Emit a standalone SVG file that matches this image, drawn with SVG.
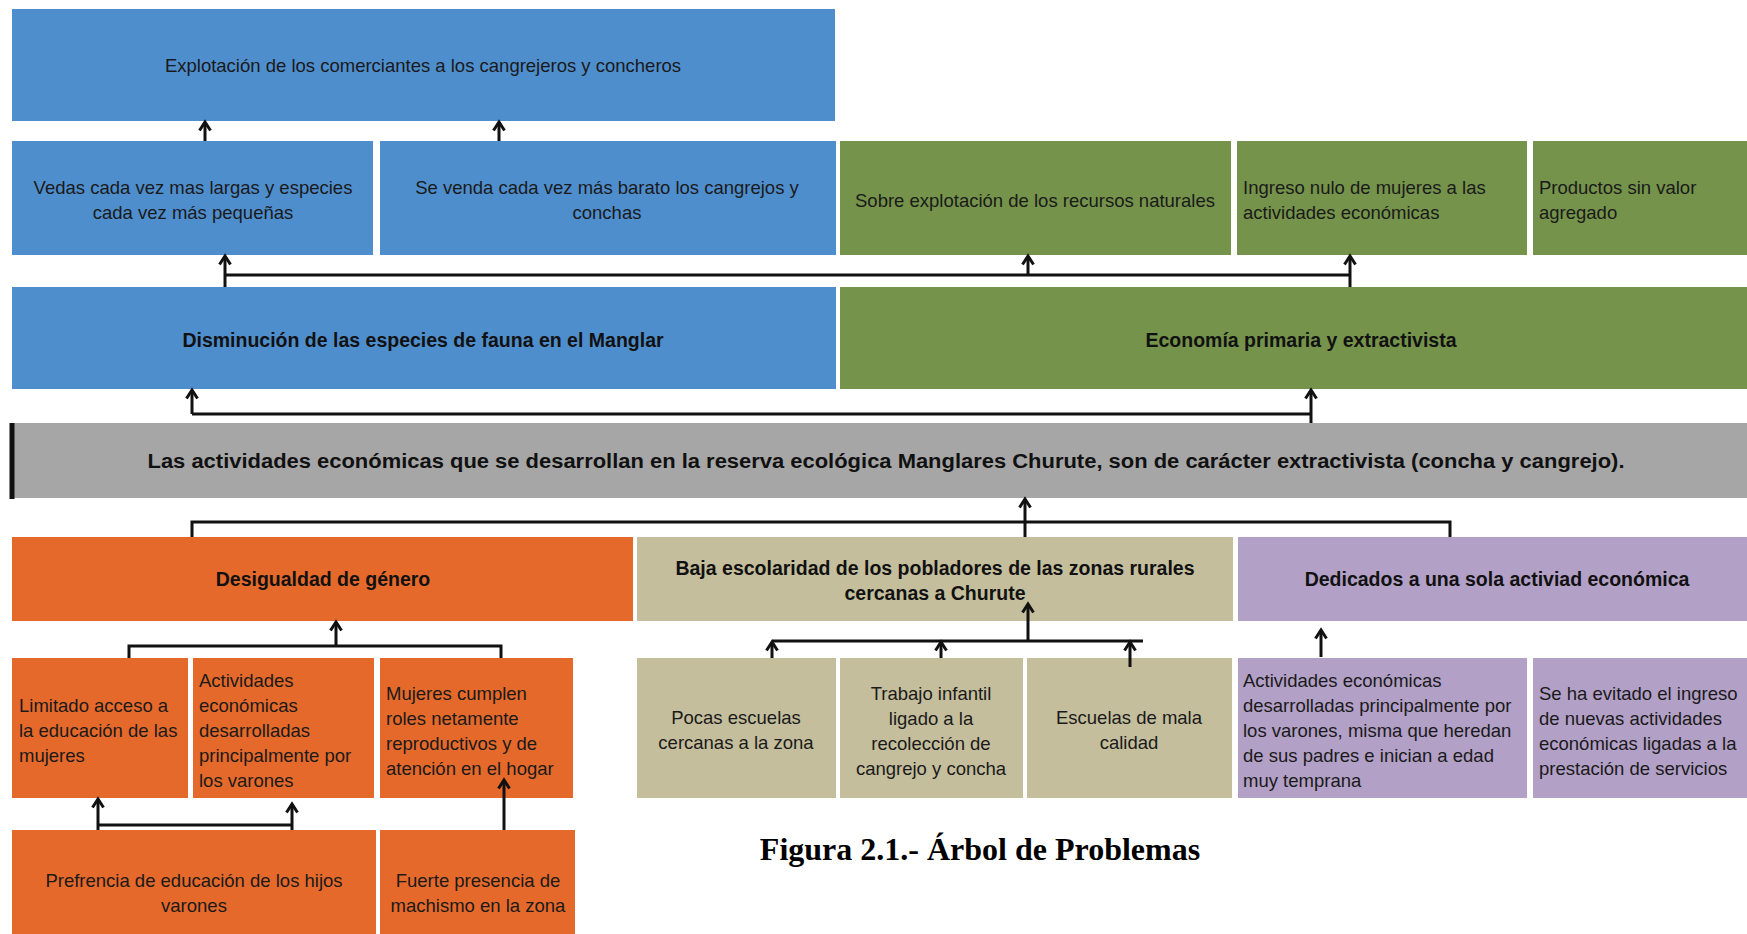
<svg xmlns="http://www.w3.org/2000/svg" width="1747" height="934" viewBox="0 0 1747 934">
<style>
.t{font-family:"Liberation Sans",Arial,sans-serif;font-size:18.5px;fill:#1a1a1a}
.b{font-family:"Liberation Sans",Arial,sans-serif;font-size:19.5px;font-weight:bold;fill:#111}
.m{text-anchor:middle}
.blue{fill:#4F8ECD}.green{fill:#75934A}.gray{fill:#A6A6A6}.orange{fill:#E5692A}.tan{fill:#C4BE9C}.purple{fill:#B2A0C6}
.c{fill:none;stroke:#111;stroke-width:3}
.a{fill:none;stroke:#111;stroke-width:3;marker-end:url(#ah)}
</style>
<defs>
<marker id="ah" markerUnits="userSpaceOnUse" orient="auto" refX="0" refY="0" markerWidth="12" markerHeight="12" overflow="visible">
<path d="M-8.5,-5.5 L0,0 L-8.5,5.5" fill="none" stroke="#111" stroke-width="3"/>
</marker>
</defs>
<rect width="1747" height="934" fill="#fff"/>

<g id="n-explotacion"><rect class="blue" x="12" y="9" width="823" height="112"/>
<text class="t m" x="423" y="71.5">Explotación de los comerciantes a los cangrejeros y concheros</text></g>

<g id="n-vedas"><rect class="blue" x="12" y="141" width="361" height="114"/>
<text class="t m" x="193" y="194">Vedas cada vez mas largas y especies</text>
<text class="t m" x="193" y="219">cada vez más pequeñas</text></g>

<g id="n-sevenda"><rect class="blue" x="380" y="141" width="456" height="114"/>
<text class="t m" x="607" y="194">Se venda cada vez más barato los cangrejos y</text>
<text class="t m" x="607" y="219">conchas</text></g>

<g id="n-sobre"><rect class="green" x="840" y="141" width="391" height="114"/>
<text class="t m" x="1035" y="206.5">Sobre explotación de los recursos naturales</text></g>

<g id="n-ingreso"><rect class="green" x="1237" y="141" width="290" height="114"/>
<text class="t" x="1243" y="194">Ingreso nulo de mujeres a las</text>
<text class="t" x="1243" y="219">actividades económicas</text></g>

<g id="n-productos"><rect class="green" x="1533" y="141" width="214" height="114"/>
<text class="t" x="1539" y="194">Productos sin valor</text>
<text class="t" x="1539" y="219">agregado</text></g>

<g id="n-disminucion"><rect class="blue" x="12" y="287" width="824" height="102"/>
<text class="b m" x="423" y="347">Disminución de las especies de fauna en el Manglar</text></g>

<g id="n-economia"><rect class="green" x="840" y="287" width="907" height="102"/>
<text class="b m" x="1301" y="347">Economía primaria y extractivista</text></g>

<g id="n-problema"><rect class="gray" x="14" y="423" width="1733" height="75"/>
<rect x="9.5" y="423" width="5" height="76" fill="#111"/>
<text class="b m" x="886" y="468" textLength="1477" lengthAdjust="spacingAndGlyphs">Las actividades económicas que se desarrollan en la reserva ecológica Manglares Churute, son de carácter extractivista (concha y cangrejo).</text></g>

<g id="n-desigualdad"><rect class="orange" x="12" y="537" width="621" height="84"/>
<text class="b m" x="323" y="586">Desigualdad de género</text></g>

<g id="n-baja"><rect class="tan" x="637" y="537" width="596" height="84"/>
<text class="b m" x="935" y="575">Baja escolaridad de los pobladores de las zonas rurales</text>
<text class="b m" x="935" y="599.5">cercanas a Churute</text></g>

<g id="n-dedicados"><rect class="purple" x="1238" y="537" width="509" height="84"/>
<text class="b m" x="1497" y="586">Dedicados a una sola activiad económica</text></g>

<g id="n-limitado"><rect class="orange" x="12" y="658" width="176" height="140"/>
<text class="t" x="19" y="711.5">Limitado acceso a</text>
<text class="t" x="19" y="736.5">la educación de las</text>
<text class="t" x="19" y="761.5">mujeres</text></g>

<g id="n-actividades-varones"><rect class="orange" x="193" y="658" width="181" height="140"/>
<text class="t" x="199" y="686.5">Actividades</text>
<text class="t" x="199" y="711.5">económicas</text>
<text class="t" x="199" y="736.5">desarrolladas</text>
<text class="t" x="199" y="761.5">principalmente por</text>
<text class="t" x="199" y="786.5">los varones</text></g>

<g id="n-mujeres"><rect class="orange" x="380" y="658" width="193" height="140"/>
<text class="t" x="386" y="699.5">Mujeres cumplen</text>
<text class="t" x="386" y="724.5">roles netamente</text>
<text class="t" x="386" y="749.5">reproductivos y de</text>
<text class="t" x="386" y="774.5">atención en el hogar</text></g>

<g id="n-pocas"><rect class="tan" x="637" y="658" width="199" height="140"/>
<text class="t m" x="736" y="723.5">Pocas escuelas</text>
<text class="t m" x="736" y="748.5">cercanas a la zona</text></g>

<g id="n-trabajo"><rect class="tan" x="840" y="658" width="183" height="140"/>
<text class="t m" x="931" y="699.5">Trabajo infantil</text>
<text class="t m" x="931" y="724.5">ligado a la</text>
<text class="t m" x="931" y="749.5">recolección de</text>
<text class="t m" x="931" y="774.5">cangrejo y concha</text></g>

<g id="n-escuelas"><rect class="tan" x="1027" y="658" width="205" height="140"/>
<text class="t m" x="1129" y="723.5">Escuelas de mala</text>
<text class="t m" x="1129" y="748.5">calidad</text></g>

<g id="n-actividades-heredan"><rect class="purple" x="1238" y="658" width="289" height="140"/>
<text class="t" x="1243" y="687">Actividades económicas</text>
<text class="t" x="1243" y="712">desarrolladas principalmente por</text>
<text class="t" x="1243" y="737">los varones, misma que heredan</text>
<text class="t" x="1243" y="762">de sus padres e inician a edad</text>
<text class="t" x="1243" y="787">muy temprana</text></g>

<g id="n-evitado"><rect class="purple" x="1533" y="658" width="214" height="140"/>
<text class="t" x="1539" y="699.5">Se ha evitado el ingreso</text>
<text class="t" x="1539" y="724.5">de nuevas actividades</text>
<text class="t" x="1539" y="749.5">económicas ligadas a la</text>
<text class="t" x="1539" y="774.5">prestación de servicios</text></g>

<g id="n-prefrencia"><rect class="orange" x="12" y="830" width="364" height="104"/>
<text class="t m" x="194" y="886.5">Prefrencia de educación de los hijos</text>
<text class="t m" x="194" y="911.5">varones</text></g>

<g id="n-fuerte"><rect class="orange" x="380" y="830" width="195" height="104"/>
<text class="t m" x="478" y="886.5">Fuerte presencia de</text>
<text class="t m" x="478" y="911.5">machismo en la zona</text></g>

<g id="connectors">
<path class="a" d="M205,141 V122"/>
<path class="a" d="M499,141 V122"/>
<path class="c" d="M225,275 H1350"/>
<path class="a" d="M225,287 V256"/>
<path class="a" d="M1028,275 V256"/>
<path class="a" d="M1350,287 V256"/>
<path class="c" d="M192,414 H1311"/>
<path class="a" d="M192,414 V390"/>
<path class="a" d="M1311,423 V390"/>
<path class="c" d="M192,537 V522 H1450 V537"/>
<path class="a" d="M1025,537 V499"/>
<path class="c" d="M129,658 V646 H501 V658"/>
<path class="a" d="M336,646 V622"/>
<path class="c" d="M772,641 H1143"/>
<path class="a" d="M1028,641 V604"/>
<path class="a" d="M772,658 V642"/>
<path class="a" d="M941,658 V642"/>
<path class="a" d="M1130,667 V642"/>
<path class="a" d="M1321,657 V630"/>
<path class="c" d="M98,825 H292"/>
<path class="a" d="M98,830 V799"/>
<path class="a" d="M292,830 V804"/>
<path class="a" d="M504,830 V780"/>
</g>

<text x="980" y="860" text-anchor="middle" font-family="'Liberation Serif','Times New Roman',serif" font-weight="bold" font-size="32" fill="#000">Figura 2.1.- Árbol de Problemas</text>
</svg>
